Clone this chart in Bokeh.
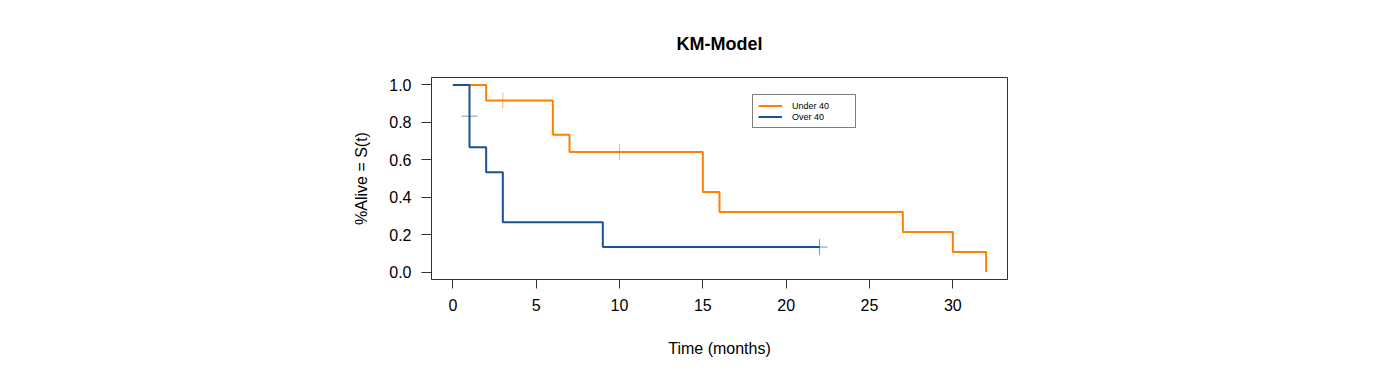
from bokeh.plotting import figure
from bokeh.models import Range1d, FixedTicker, Legend, LegendItem
from bokeh.embed import file_html
from bokeh.resources import INLINE

# Data
under_time = [0, 2, 6, 7, 15, 16, 27, 30, 32]
under_surv = [1.0, 0.9167, 0.7333, 0.6417, 0.4278, 0.3208, 0.2139, 0.1069, 0.0]
under_cens_time = [3, 10]
under_cens_surv = [0.9167, 0.6417]

over_time = [0, 1, 2, 3, 9, 22]
over_surv = [1.0, 0.6667, 0.5333, 0.2667, 0.1333, 0.1333]
over_cens_time = [1, 22]
over_cens_surv = [0.8333, 0.1333]

x_ticks = [0, 5, 10, 15, 20, 25, 30]
y_ticks = [0.0, 0.2, 0.4, 0.6, 0.8, 1.0]

ORANGE = "#FF7F00"
BLUE = "#1A5293"
FONT = "Liberation Sans"

p = figure(width=1392, height=369, output_backend="svg", toolbar_location=None,
           x_range=Range1d(-1.28, 33.28), y_range=Range1d(-0.04, 1.04),
           min_border_left=431, min_border_right=385, min_border_top=77, min_border_bottom=90)
p.frame_width = 576
p.frame_height = 202

p.title.text = "KM-Model"
p.title.align = "center"
p.title.text_font = FONT
p.title.text_font_size = "18px"
p.title.text_font_style = "bold"
p.title.text_color = "black"
p.title.standoff = 47

p.xgrid.visible = False
p.ygrid.visible = False
p.outline_line_color = "#333333"
p.outline_line_width = 1

for ax in (p.xaxis[0], p.yaxis[0]):
    ax.major_tick_in = 0
    ax.major_tick_out = 9
    ax.minor_tick_out = 0
    ax.minor_tick_in = 0
    ax.axis_line_color = "#333333"
    ax.major_tick_line_color = "#333333"
    ax.major_label_text_font = FONT
    ax.major_label_text_font_size = "16px"
    ax.major_label_text_color = "black"
    ax.axis_label_text_font = FONT
    ax.axis_label_text_font_size = "16px"
    ax.axis_label_text_font_style = "normal"
    ax.axis_label_text_color = "black"

p.yaxis.major_tick_out = 10
p.xaxis.ticker = FixedTicker(ticks=x_ticks)
p.yaxis.ticker = FixedTicker(ticks=y_ticks)
p.yaxis.major_label_overrides = {t: f"{t:.1f}" for t in y_ticks}
p.xaxis.major_label_standoff = 10
p.yaxis.major_label_standoff = 10
p.xaxis.axis_label = "Time (months)"
p.yaxis.axis_label = "%Alive = S(t)"
p.xaxis.axis_label_standoff = 26
p.yaxis.axis_label_standoff = 16

r_under = p.step(under_time, under_surv, mode="after", line_color=ORANGE, line_width=2)
r_over = p.step(over_time, over_surv, mode="after", line_color=BLUE, line_width=2)
p.scatter(under_cens_time, under_cens_surv, marker="cross", size=16, line_color=ORANGE,
          line_alpha=0.6, line_width=1)
p.scatter(over_cens_time, over_cens_surv, marker="cross", size=16, line_color=BLUE,
          line_alpha=0.6, line_width=1)

legend = Legend(items=[LegendItem(label="Under 40", renderers=[r_under]),
                       LegendItem(label="Over 40", renderers=[r_over])],
                location=(321, 151), label_text_font=FONT, label_text_font_size="9px",
                label_text_color="black",
                glyph_width=24, glyph_height=11, label_height=11, label_width=58,
                spacing=0, padding=5, margin=0, label_standoff=10,
                border_line_color="black", border_line_width=1,
                background_fill_alpha=1)
p.add_layout(legend, "center")

open("out.html", "w").write(file_html(p, INLINE))
